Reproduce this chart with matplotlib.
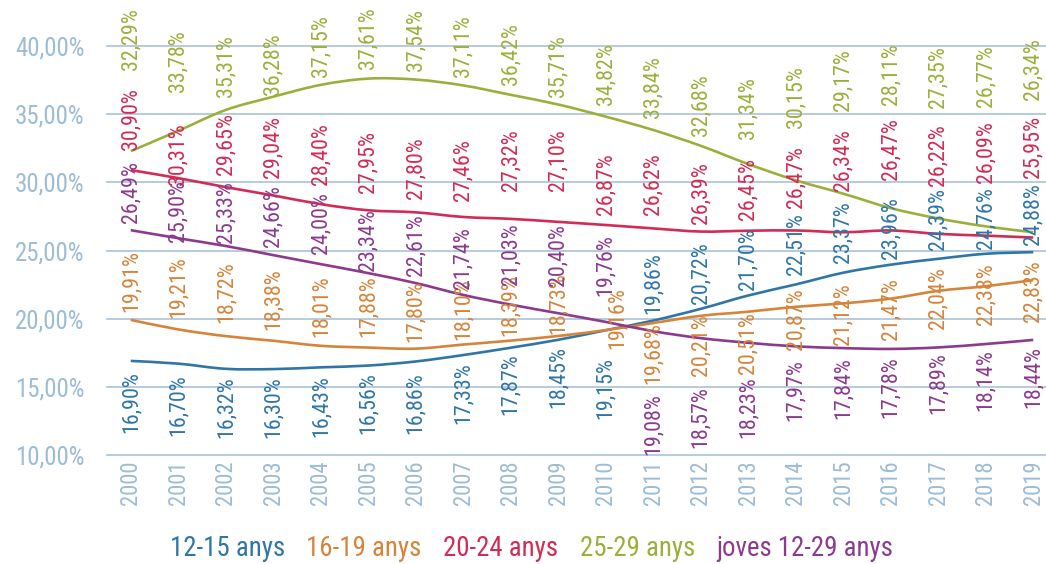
import matplotlib
matplotlib.use("Agg")
import matplotlib.pyplot as plt
from matplotlib.path import Path
from matplotlib.patches import PathPatch
from matplotlib.lines import Line2D
from matplotlib import font_manager
import numpy as np

# ---------------- data ----------------
years = [str(y) for y in range(2000, 2020)]
series_names = ["12-15 anys", "16-19 anys", "20-24 anys", "25-29 anys", "joves 12-29 anys"]

v_12_15 = [16.90, 16.70, 16.32, 16.30, 16.43, 16.56, 16.86, 17.33, 17.87, 18.45,
           19.15, 19.86, 20.72, 21.70, 22.51, 23.37, 23.96, 24.39, 24.76, 24.88]
v_16_19 = [19.91, 19.21, 18.72, 18.38, 18.01, 17.88, 17.80, 18.10, 18.39, 18.73,
           19.16, 19.68, 20.21, 20.51, 20.87, 21.12, 21.47, 22.04, 22.38, 22.83]
v_20_24 = [30.90, 30.31, 29.65, 29.04, 28.40, 27.95, 27.80, 27.46, 27.32, 27.10,
           26.87, 26.62, 26.39, 26.45, 26.47, 26.34, 26.47, 26.22, 26.09, 25.95]
v_25_29 = [32.29, 33.78, 35.31, 36.28, 37.15, 37.61, 37.54, 37.11, 36.42, 35.71,
           34.82, 33.84, 32.68, 31.34, 30.15, 29.17, 28.11, 27.35, 26.77, 26.34]
v_joves = [26.49, 25.90, 25.33, 24.66, 24.00, 23.34, 22.61, 21.74, 21.03, 20.40,
           19.76, 19.08, 18.57, 18.23, 17.97, 17.84, 17.78, 17.89, 18.14, 18.44]

y_ticks = [10, 15, 20, 25, 30, 35, 40]

# ---------------- styling ----------------
colors = ["#2f76a7", "#d6843a", "#d22b55", "#9bb03c", "#8c3a8e"]
tick_color = "#9dbcd5"
grid_color = "#a9c3d8"

# label offsets (pixels, dx, dy up) per series
lab_dy = [
    [-41, -41, -38, -38, -39, -38, -42, -38, -36, -37, -58, 38, 36, 36, 40, 41, 37, 40, 36, 38],
    [39, 42, 44, 42, 40, 41, 38, 35, 36, 33, 12, -30, -29, -31, -12, -11, -10, -7, -8, -11],
    [51, 24, 43, 48, 50, 48, 44, 47, 59, 62, 41, 44, 38, 42, 53, 72, 81, 79, 84, 91],
    [112, 70, 44, 33, 39, 40, 40, 39, 41, 38, 43, 43, 41, 56, 83, 114, 134, 141, 150, 163],
    [38, 27, 34, 39, 41, 33, 38, 37, 50, 58, 57, -93, -79, -64, -44, -40, -38, -36, -36, -37],
]
lab_dx = [[0] * 20 for _ in range(5)]
lab_dx[1][10] = 12

names = {f.name for f in font_manager.fontManager.ttflist}
prefs = ["Liberation Sans Narrow", "Arial Narrow", "Roboto Condensed", "Open Sans Condensed",
         "PT Sans Narrow", "Archivo Narrow", "Asap Condensed", "Liberation Sans"]
fam = next(p for p in prefs if p in names)
plt.rcParams["font.family"] = [fam, "DejaVu Sans"]

DPI = 100
fig = plt.figure(figsize=(10.46, 5.64), dpi=DPI)
renderer = fig.canvas.get_renderer()


def fit_size(sample, target_px, base=20.0):
    t = fig.text(0, 0, sample, fontsize=base)
    w = t.get_window_extent(renderer).width
    t.remove()
    return base * target_px / w


fs_label = fit_size("16,90%", 62)
fs_ytick = fit_size("40,00%", 70)
fs_xtick = fit_size("2000", 45)
fs_leg = fit_size("12-15 anys", 115)

ax = fig.add_axes([0.1023, 0.1933, 0.9082, 0.7251])
ax.set_xlim(-0.5, 19.5)
ax.set_ylim(10, 40)

for s in ax.spines.values():
    s.set_visible(False)
ax.set_yticks(y_ticks)
ax.set_yticklabels([f"{t:.2f}".replace(".", ",") + "%" for t in y_ticks])
ax.set_xticks(range(len(years)))
ax.set_xticklabels(years, rotation=90)
ax.tick_params(axis="both", length=0, colors=tick_color)
ax.tick_params(axis="y", labelsize=fs_ytick, pad=16)
ax.tick_params(axis="x", labelsize=fs_xtick, pad=4)
for t in y_ticks:
    ax.axhline(t, color=grid_color, lw=1.2, zorder=0, clip_on=False)


def smooth_path(xs, ys):
    pts = np.column_stack([xs, ys]).astype(float)
    n = len(pts)
    verts = [pts[0]]
    codes = [Path.MOVETO]
    for i in range(n - 1):
        p0 = pts[i - 1] if i > 0 else pts[i]
        p1 = pts[i]
        p2 = pts[i + 1]
        p3 = pts[i + 2] if i + 2 < n else pts[i + 1]
        c1 = p1 + (p2 - p0) / 6.0
        c2 = p2 - (p3 - p1) / 6.0
        verts += [c1, c2, p2]
        codes += [Path.CURVE4] * 3
    return Path(verts, codes)


all_series = [v_12_15, v_16_19, v_20_24, v_25_29, v_joves]
x = np.arange(len(years))
for k, (vals, col) in enumerate(zip(all_series, colors)):
    patch = PathPatch(smooth_path(x, vals), facecolor="none", edgecolor=col,
                      lw=1.9, zorder=3, capstyle="butt")
    ax.add_patch(patch)
    for i, v in enumerate(vals):
        txt = f"{v:.2f}".replace(".", ",") + "%"
        ax.annotate(txt, (i, v), xytext=(lab_dx[k][i], lab_dy[k][i]),
                    textcoords="offset pixels", rotation=90,
                    ha="center", va="center", color=col, fontsize=fs_label,
                    annotation_clip=False, zorder=4)

handles = [Line2D([], [], color=c, lw=0) for c in colors]
leg = fig.legend(handles, series_names, loc="center", bbox_to_anchor=(0.508, 0.027),
                 ncol=5, frameon=False, handlelength=0, handletextpad=0,
                 columnspacing=0.8, fontsize=fs_leg, labelcolor="linecolor")

fig.savefig("out.png", dpi=DPI)
